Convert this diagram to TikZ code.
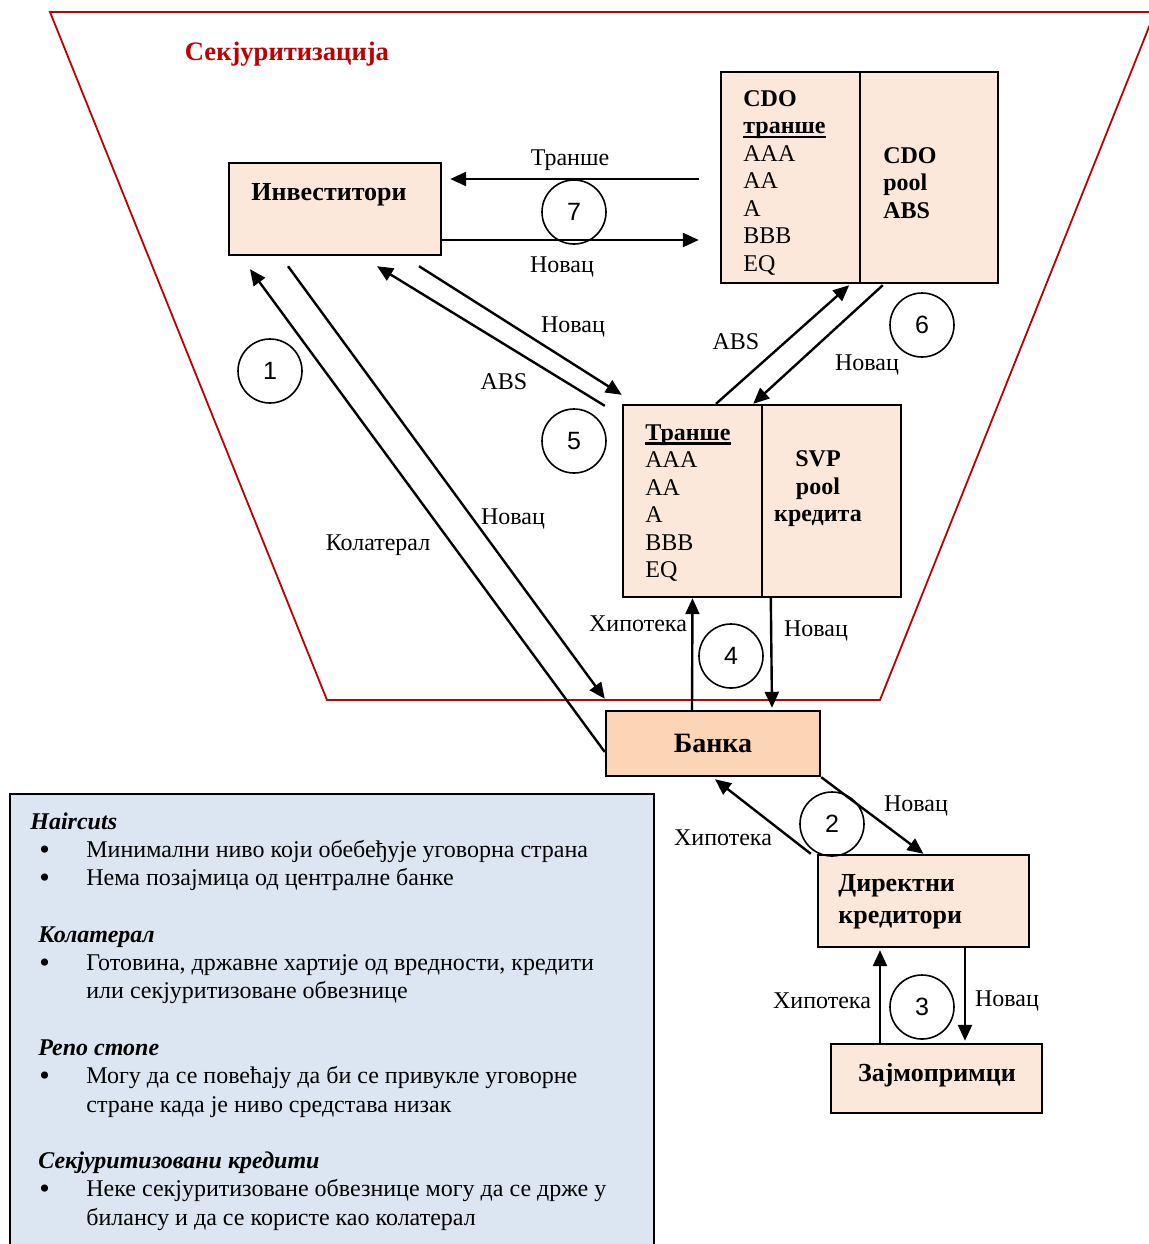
\documentclass[tikz,border=0pt]{standalone}
\usepackage{xcolor}
\usepackage{fontspec}
\setmainfont{Liberation Serif}
\newfontfamily\numfont{Liberation Sans}
\usepackage{tikz}
\usetikzlibrary{shapes, arrows.meta, positioning, calc}
\definecolor{peach}{RGB}{252,232,218}
\definecolor{bankfill}{RGB}{251,213,181}
\definecolor{notefill}{RGB}{220,230,242}
\definecolor{secred}{RGB}{192,0,0}
\newcommand{\notebullet}{\hspace*{4.5pt}\makebox[23.5pt][l]{\raisebox{-1pt}{\scalebox{1.25}{\textbullet}}}}
\newcommand{\noteindent}{\hspace*{28pt}}
\newcommand{\thickul}[1]{\leavevmode\setbox0=\hbox{#1}\rlap{\rule[-2.3pt]{\wd0}{1.3pt}}\box0}
\tikzset{
    box/.style={draw, rectangle, line width=1.2pt, fill=peach, inner sep=0pt},
    flow/.style={-{Triangle[length=8pt,width=7pt]}, line width=1.2pt},
    stepnum/.style={draw, circle, line width=0.8pt, minimum size=32pt, inner sep=0pt, font=\numfont\fontsize{12.5}{14}\selectfont},
    lbl/.style={font=\fontsize{12}{13.75}\selectfont, inner sep=0pt, yshift=-1.5pt},
    title/.style={font=\bfseries\fontsize{12}{13.75}\selectfont, inner sep=0pt, yshift=-1.5pt}
}
\begin{document}
\begin{tikzpicture}[x=0.5pt, y=-0.5pt]
            \useasboundingbox (0,0) rectangle (1148,1244);
            \draw[secred, line width=0.9pt] (1155,12) -- (50,12) -- (327,700) -- (880,700) -- cycle;
            \node[font=\bfseries\fontsize{13.3}{16}\selectfont, text=secred] (sectitle) at (287,54) {Секјуритизација};

            \node[box, minimum width=106pt, minimum height=46pt] (inv) at (335,209) {};
            \node[title, font=\bfseries\fontsize{13}{15}\selectfont] (invtxt) at (329,192) {Инвеститори};

            \node[box, minimum width=69.5pt, minimum height=105.5pt] (cdoL) at (790.5,177.5) {};
            \node[box, minimum width=69pt, minimum height=105.5pt] (cdoR) at (929,177.5) {};
            \node[lbl, align=left, anchor=north west] (cdolist) at (743,87) {\textbf{CDO}\\\textbf{\thickul{транше}}\\AAA\\AA\\A\\BBB\\EQ};
            \node[title, align=left] (cdopool) at (910,180) {CDO\\pool\\ABS};

            \node[box, minimum width=69.5pt, minimum height=96pt] (svpL) at (692.5,501) {};
            \node[box, minimum width=69.5pt, minimum height=96pt] (svpR) at (831.5,501) {};
            \node[lbl, align=left, anchor=north west] (svplist) at (645,421) {\textbf{\thickul{Транше}}\\AAA\\AA\\A\\BBB\\EQ};
            \node[title, align=center] (svppool) at (818,486) {SVP\\pool\\кредита};

            \node[box, fill=bankfill, minimum width=107pt, minimum height=32.5pt, font=\bfseries\fontsize{14}{16}\selectfont] (bank) at (713,743.5) {Банка};

            \node[box, minimum width=105.5pt, minimum height=46pt] (dir) at (923.5,901) {};
            \node[title, align=left, anchor=west, font=\bfseries\fontsize{13}{16}\selectfont] (dirtxt) at (838,899) {Директни\\кредитори};

            \node[box, minimum width=105.5pt, minimum height=34.5pt] (zaj) at (936.5,1078.5) {};
            \node[title, font=\bfseries\fontsize{13}{15}\selectfont] (zajtxt) at (937,1072) {Зајмопримци};

            \node[draw, rectangle, line width=1pt, fill=notefill, minimum width=322pt, minimum height=233pt, inner sep=0pt] (notes) at (332,1027) {};
            \node[lbl, align=left, anchor=north west, font=\fontsize{12}{14.15}\selectfont] (notetxt) at (30,809) {
                \textbf{\textit{Haircuts}}\\
                \notebullet Минимални ниво који обебеђује уговорна страна\\
                \notebullet Нема позајмица од централне банке\\[14.15pt]
                \hspace*{4pt}\textbf{\textit{Колатерал}}\\
                \notebullet Готовина, државне хартије од вредности, кредити\\
                \noteindent или секјуритизоване обвезнице\\[14.15pt]
                \hspace*{4pt}\textbf{\textit{Репо стопе}}\\
                \notebullet Могу да се повећају да би се привукле уговорне\\
                \noteindent стране када је ниво средстава низак\\[14.15pt]
                \hspace*{4pt}\textbf{\textit{Секјуритизовани кредити}}\\
                \notebullet Неке секјуритизоване обвезнице могу да се држе у\\
                \noteindent билансу и да се користе као колатерал
            };

            \node[stepnum] (n1) at (270,371) {1};
            \node[stepnum] (n2) at (832,824) {2};
            \node[stepnum] (n3) at (922,1007) {3};
            \node[stepnum] (n4) at (731,656) {4};
            \node[stepnum] (n5) at (574,441) {5};
            \node[stepnum] (n6) at (922,325) {6};
            \node[stepnum] (n7) at (574,212) {7};

            \draw[flow] ($(cdoL.west)+(-21,1.5)$) -- ($(inv.east)+(8,-30)$);
            \draw[flow] ($(inv.east)+(0,31)$) -- ($(cdoL.west)+(-21,62.5)$);
            \draw[flow] ($(bank.west)+(0,8.5)$) -- ($(inv.south)+(-85,13)$);
            \draw[flow] ($(inv.south)+(-47,10)$) -- ($(bank.north west)+(0,-11)$);
            \draw[flow] ($(svpL.north west)+(-17,2)$) -- ($(inv.south)+(42,10)$);
            \draw[flow] ($(inv.south)+(84,10)$) -- ($(svpL.north west)+(0,-9)$);
            \draw[flow] ($(svpL.north)+(23.5,0)$) -- ($(cdoL.south east)+(-12,1)$);
            \draw[flow] ($(cdoR.south west)+(24,1)$) -- ($(svpL.north east)+(-10,0)$);
            \draw[flow] ($(bank.north)+(-21,0)$) -- (svpL.south);
            \draw[flow] ($(svpR.south west)+(10,0)$) -- ($(bank.north)+(59,-2)$);
            \draw[flow] (bank.south east) -- (dir.north);
            \draw[flow] ($(dir.north west)+(-6,0)$) -- ($(bank.south)+(2,2)$);
            \draw[flow] ($(zaj.north)+(-56.5,0)$) -- ($(dir.south)+(-43.5,2)$);
            \draw[flow] ($(dir.south)+(41.5,0)$) -- ($(zaj.north)+(28.5,-2)$);

            \node[lbl] (l7a) at (570,157) {Транше};
            \node[lbl] (l7b) at (562,264) {Новац};
            \node[lbl] (l1a) at (378,542) {Колатерал};
            \node[lbl] (l1b) at (513,516) {Новац};
            \node[lbl] (l5a) at (504,379) {ABS};
            \node[lbl] (l5b) at (573,324) {Новац};
            \node[lbl] (l6a) at (736,339) {ABS};
            \node[lbl] (l6b) at (867,362) {Новац};
            \node[lbl] (l4a) at (638,621) {Хипотека};
            \node[lbl] (l4b) at (816,628) {Новац};
            \node[lbl] (l2a) at (723,835) {Хипотека};
            \node[lbl] (l2b) at (916,803) {Новац};
            \node[lbl] (l3a) at (822,998) {Хипотека};
            \node[lbl] (l3b) at (1007,998) {Новац};
        \end{tikzpicture}
\end{document}
